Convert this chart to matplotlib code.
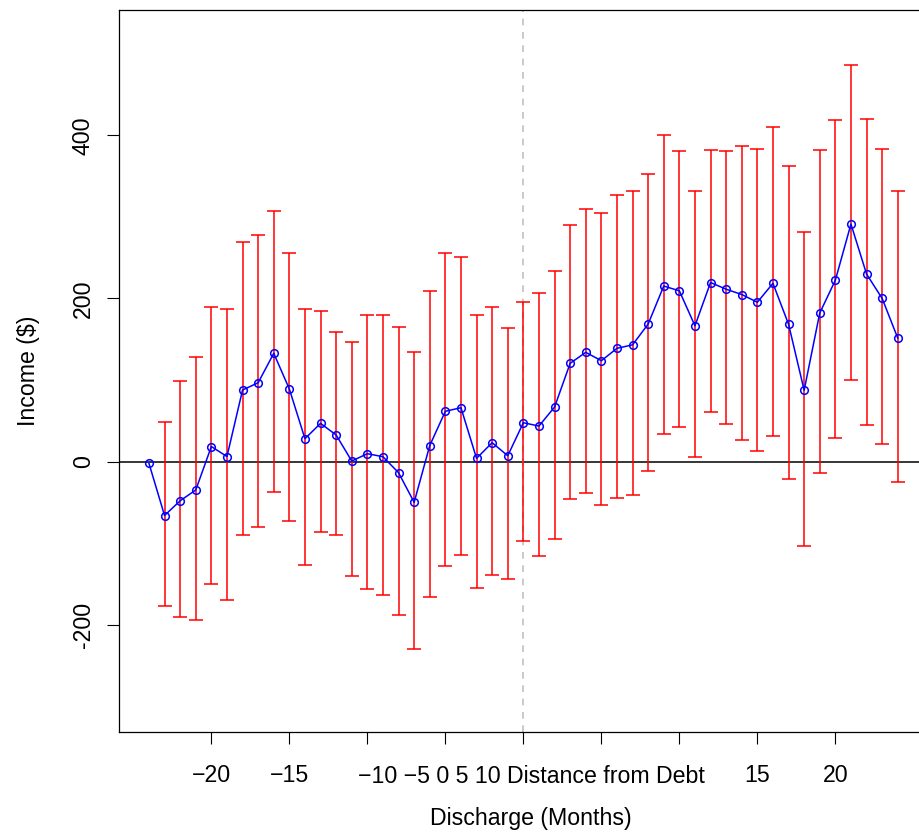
import numpy as np
import matplotlib.pyplot as plt
from matplotlib import transforms

plt.rcParams['font.family'] = ['Liberation Sans', 'DejaVu Sans']

# months relative to discharge, mean income and 95% interval
months = np.arange(-24, 25)
income = [-2.2, -66.2, -48.1, -34.9, 18.4, 6.1, 87.7, 96.6, 132.7, 88.9,
          28.0, 46.8, 32.5, 0.6, 9.6, 5.9, -13.7, -50.0, 19.6, 61.6,
          66.0, 3.9, 23.1, 7.1, 47.6, 43.5, 66.8, 120.4, 133.9, 123.6,
          138.8, 143.1, 168.6, 215.2, 209.3, 166.5, 219.5, 211.3, 204.8, 195.3,
          218.5, 168.4, 87.4, 182.1, 222.3, 291.2, 229.9, 200.0, 151.4]
ci_low = [np.nan, -176.8, -190.3, -194.7, -149.8, -169.8, -89.8, -80.0, -37.0, -72.6,
          -127.3, -86.8, -90.5, -140.0, -156.6, -163.3, -187.9, -229.9, -166.1, -127.8,
          -115.0, -155.1, -139.2, -144.1, -97.5, -115.9, -95.0, -45.6, -39.0, -53.3,
          -44.8, -40.8, -11.3, 33.7, 42.3, 5.9, 60.7, 46.0, 27.0, 12.5,
          31.3, -21.5, -103.1, -14.5, 29.1, 100.4, 44.5, 21.3, -25.4]
ci_high = [np.nan, 48.4, 98.7, 128.1, 190.1, 186.6, 269.5, 277.7, 307.2, 256.0,
           187.6, 184.9, 159.2, 146.5, 179.6, 179.6, 165.3, 133.9, 209.4, 255.1,
           250.8, 179.3, 189.2, 163.7, 196.2, 206.6, 233.6, 289.6, 310.2, 304.4,
           326.8, 332.0, 352.5, 400.7, 380.7, 332.0, 382.3, 380.7, 387.2, 383.2,
           410.5, 362.8, 281.2, 382.5, 419.3, 486.4, 419.6, 382.8, 332.1]

xticks = [-20, -15, -10, -5, 0, 5, 10, 15, 20]
xtick_labels = ['\u221220', '\u221215', '', '', '', '', '', '15', '20']
middle_label = '\u221210 \u22125 0 5 10 Distance from Debt'
yticks = [-200, 0, 200, 400]
ytick_labels = ['-200', '0', '200', '400']

income = np.array(income)
lo = income - np.array(ci_low)
hi = np.array(ci_high) - income

fig = plt.figure(figsize=(9.19, 8.34), dpi=100)
ax = fig.add_axes([119 / 919, (834 - 731.8) / 834, 808.7 / 919, 721.5 / 834])

ax.axhline(0, color='black', lw=1.1, zorder=1)
ax.axvline(0, color='#c0c0c0', lw=1.2, ls=(0, (4, 4)), zorder=1)
ax.errorbar(months, income, yerr=[lo, hi], fmt='none', ecolor='red',
            elinewidth=1.1, capsize=5, capthick=1.1, zorder=2)
ax.plot(months, income, color='blue', lw=1.1, marker='o', ms=5.5,
        mfc='none', mew=1.1, zorder=3)

ax.set_xlim(-25.92, 25.92)
ax.set_ylim(-331.4, 553.3)

ax.set_xticks(xticks)
ax.set_xticklabels(xtick_labels)
ax.set_yticks(yticks)
ax.set_yticklabels(ytick_labels, rotation=90, va='center')
ax.tick_params(direction='out', length=8.5, width=0.8, labelsize=16.7, color='black')
ax.tick_params(axis='x', pad=15)
ax.tick_params(axis='y', pad=9)
for sp in ax.spines.values():
    sp.set_linewidth(0.9)

trans = transforms.blended_transform_factory(ax.transData, ax.transAxes)
ax.text(0.5, -0.0614, middle_label, transform=trans, ha='center', va='center',
        fontsize=16.7)

ax.set_xlabel('Discharge (Months)', fontsize=16.7)
ax.xaxis.set_label_coords(0.5095, -0.1197)
ax.xaxis.label.set_va('center')
ax.set_ylabel('Income ($)', fontsize=16.7)
ax.yaxis.set_label_coords(-0.1125, 0.5)
ax.yaxis.label.set_va('center')

fig.savefig('out.png', dpi=100)
